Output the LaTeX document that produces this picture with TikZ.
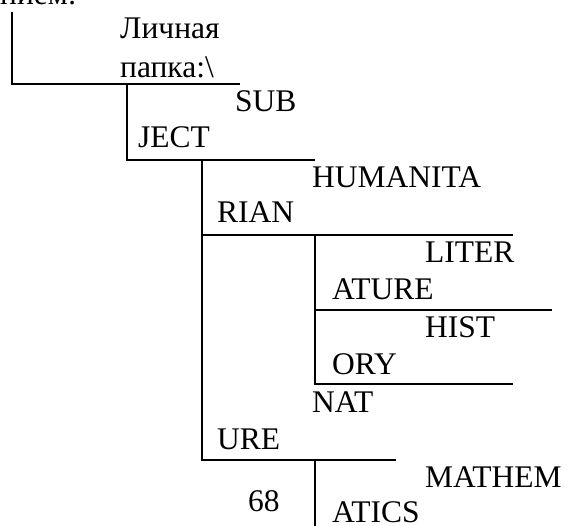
\documentclass[tikz,border=0pt]{standalone}
\usepackage{fontspec}
\setmainfont{Liberation Serif}
\begin{document}
\begin{tikzpicture}[x=1pt,y=-1pt,
  lbl/.style={anchor=base west,inner sep=0pt,font=\fontsize{31.5}{32}\selectfont},
  ln/.style={line width=2.2pt}]
\useasboundingbox (0,0) rectangle (579,526);
\clip (0,0) rectangle (579,526);
% cut-off text at top
\node[lbl] (top) at (0,5) {нием:};
% labels
\node[lbl] (l1a) at (120,39) {Личная};
\node[lbl] (l1b) at (120,78) {папка:\textbackslash};
\node[lbl] (l2a) at (235,112) {SUB};
\node[lbl] (l2b) at (138,148) {JECT};
\node[lbl] (l3a) at (312,188) {HUMANITA};
\node[lbl] (l3b) at (217,223) {RIAN};
\node[lbl] (l4a) at (425,263) {LITER};
\node[lbl] (l4b) at (332,300) {ATURE};
\node[lbl] (l5a) at (425,338) {HIST};
\node[lbl] (l5b) at (332,375) {ORY};
\node[lbl] (l6a) at (312,413) {NAT};
\node[lbl] (l6b) at (217,450) {URE};
\node[lbl] (l7a) at (425,488) {MATHEM};
\node[lbl] (l7b) at (332,523) {ATICS};
\node[lbl] (pg) at (248,512) {68};
% tree lines
\coordinate (a0) at (12,12);
\coordinate (a1) at (12,84);
\coordinate (a2) at (240,84);
\coordinate (b0) at (127,84);
\coordinate (b1) at (127,160);
\coordinate (b2) at (315,160);
\coordinate (c0) at (202,160);
\coordinate (c1) at (202,460);
\coordinate (c2) at (396,460);
\coordinate (ch) at (202,235);
\coordinate (ch2) at (513,235);
\coordinate (d0) at (315,235);
\coordinate (d1) at (315,384);
\coordinate (d2) at (513,384);
\coordinate (dl) at (315,310);
\coordinate (dl2) at (552,310);
\coordinate (e0) at (315,460);
\coordinate (e1) at (315,530);
\draw[ln] (a0) -- (a1) -- (a2);
\draw[ln] (b0) -- (b1) -- (b2);
\draw[ln] (c0) -- (c1) -- (c2);
\draw[ln] (ch) -- (ch2);
\draw[ln] (d0) -- (d1) -- (d2);
\draw[ln] (dl) -- (dl2);
\draw[ln] (e0) -- (e1);
\end{tikzpicture}
\end{document}
